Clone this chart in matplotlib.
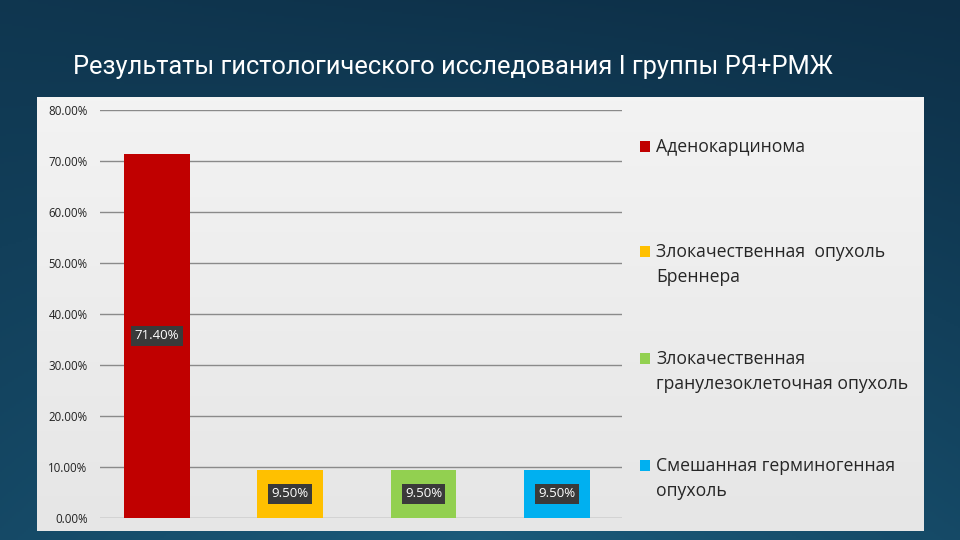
import numpy as np
import matplotlib
matplotlib.use("Agg")
import matplotlib.pyplot as plt
from matplotlib.patches import Rectangle

title = "Результаты гистологического исследования I группы РЯ+РМЖ"
categories = ["Аденокарцинома",
              "Злокачественная  опухоль\nБреннера",
              "Злокачественная\nгранулезоклеточная опухоль",
              "Смешанная герминогенная\nопухоль"]
values = [71.4, 9.5, 9.5, 9.5]
colors = ["#c00000", "#ffc000", "#92d050", "#00b0f0"]
yticks = [0, 10, 20, 30, 40, 50, 60, 70, 80]

W, H = 960, 540
fig = plt.figure(figsize=(9.6, 5.4), dpi=100)

# background gradient
bg = fig.add_axes([0, 0, 1, 1], zorder=-10)
yy, xx = np.mgrid[0:1:270j, 0:1:480j]
c_dark = np.array([0x0d, 0x2f, 0x47]) / 255
c_light = np.array([0x1c, 0x5f, 0x80]) / 255
t = np.clip(0.55 * yy + 0.35 * (1 - np.abs(xx - 0.5) * 2) * yy + 0.15 * (1 - yy) * (1 - xx), 0, 1)
img = c_dark[None, None, :] * (1 - t[..., None]) + c_light[None, None, :] * t[..., None]
bg.imshow(img, extent=[0, 1, 0, 1], aspect="auto", origin="upper")
bg.axis("off")

# light panel
panel = fig.add_axes([37 / W, 1 - 531 / H, 886 / W, 434 / H], zorder=-5)
gy = np.linspace(0, 1, 100)[:, None]
top_c = np.array([0xf3, 0xf3, 0xf3]) / 255
bot_c = np.array([0xe6, 0xe6, 0xe6]) / 255
pimg = top_c[None, None, :] * (1 - gy[..., None]) + bot_c[None, None, :] * gy[..., None]
pimg = np.repeat(pimg, 10, axis=1)
panel.imshow(pimg, extent=[0, 1, 0, 1], aspect="auto", origin="upper")
panel.axis("off")

fig.text(73 / W, 1 - 67 / H, title, color="white", fontsize=18.4,
         family=["Roboto", "DejaVu Sans"],
         va="center", ha="left")

ax = fig.add_axes([100 / W, 1 - 518 / H, 522 / W, 408 / H])
ax.set_facecolor("none")
x = np.arange(len(values))
ax.bar(x, values, width=0.495, color=colors, zorder=3)
ax.set_xlim(-0.428, 3.49)
ax.set_ylim(0, 80)
ax.set_yticks(yticks)
ax.set_yticklabels([f"{v:.2f}%" for v in yticks], fontsize=8.3,
                   family=["Open Sans", "DejaVu Sans"], color="#222222")
ax.tick_params(axis="y", length=0, pad=9)
ax.set_xticks([])
ax.grid(axis="y", color="#8a8a8a", linewidth=1.0, zorder=0)
for s in ax.spines.values():
    s.set_visible(False)

for xi, v in zip(x, values):
    ax.text(xi, v / 2, f"{v:.2f}%", ha="center", va="center", color="white",
            fontsize=9.5, family=["Open Sans", "DejaVu Sans"], zorder=5,
            bbox=dict(boxstyle="square,pad=0.25", facecolor="#3a3a3a", edgecolor="none"))

# legend
leg_y = [146, 251, 358, 465]
for yv, lab, col in zip(leg_y, categories, colors):
    fig.patches.append(Rectangle((640 / W, 1 - (yv + 6) / H), 10 / W, 11 / H,
                                 transform=fig.transFigure, facecolor=col, edgecolor="none"))
    fig.text(656 / W, 1 - (yv - 8) / H, lab, fontsize=12.7, color="#262626",
             family=["Open Sans", "DejaVu Sans"], va="top", ha="left", linespacing=1.5)

fig.savefig("out.png", dpi=100)
